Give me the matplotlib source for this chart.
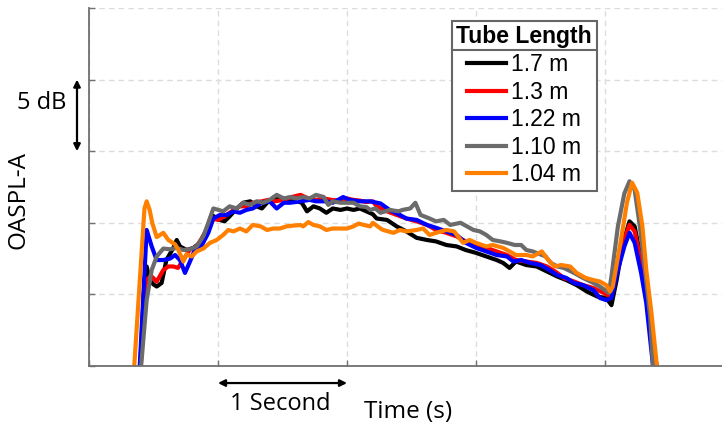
import numpy as np
import matplotlib
matplotlib.use('Agg')
import matplotlib.pyplot as plt
from matplotlib.lines import Line2D
from matplotlib.transforms import IdentityTransform

# valores (tiempo en s, nivel en dB relativo al eje)
t_170 = [0.39, 0.43, 0.447, 0.47, 0.50, 0.525, 0.563, 0.60, 0.654, 0.68, 0.705, 0.757, 0.81, 0.86,
         0.91, 0.95, 1.015, 1.05, 1.09, 1.145, 1.196, 1.25, 1.30, 1.34, 1.39, 1.44, 1.51, 1.56, 1.61,
         1.65, 1.69, 1.74, 1.79, 1.84, 1.89, 1.95, 2.00, 2.05, 2.10, 2.15, 2.20, 2.23, 2.31, 2.385,
         2.46, 2.54, 2.62, 2.69, 2.77, 2.85, 2.92, 3.00, 3.08, 3.16, 3.21, 3.26, 3.31, 3.39, 3.47,
         3.55, 3.63, 3.70, 3.78, 3.86, 3.94, 4.01, 4.05, 4.09, 4.14, 4.19, 4.23, 4.27, 4.32, 4.36,
         4.40, 4.42]
db_170 = [-1.5, 6.0, 6.95, 6.0, 5.7, 5.55, 5.8, 7.4, 8.25, 8.8, 8.35, 8.1, 8.25, 8.6,
          9.5, 10.55, 10.2, 10.1, 10.45, 11.0, 11.4, 11.5, 11.15, 11.0, 11.5, 11.7, 11.7, 11.5, 11.5,
          11.4, 10.8, 11.15, 11.0, 10.7, 11.0, 10.9, 11.0, 10.9, 11.0, 10.8, 10.6, 10.3, 10.2, 9.75,
          9.4, 8.95, 8.8, 8.7, 8.45, 8.35, 8.1, 7.9, 7.65, 7.4, 7.2, 6.85, 7.3, 7.05, 6.95,
          6.6, 6.25, 6.0, 5.65, 5.2, 4.85, 4.75, 4.25, 6.0, 8.6, 10.1, 9.75, 7.9, 5.1, 2.3,
          0.0, -1.5]

t_130 = [0.39, 0.44, 0.447, 0.48, 0.525, 0.576, 0.615, 0.654, 0.69, 0.73, 0.78, 0.835, 0.90, 0.95,
         1.00, 1.05, 1.106, 1.17, 1.22, 1.27, 1.34, 1.39, 1.44, 1.51, 1.57, 1.64, 1.70, 1.76, 1.82,
         1.88, 1.95, 2.00, 2.05, 2.10, 2.15, 2.20, 2.23, 2.31, 2.385, 2.46, 2.54, 2.62, 2.69, 2.77,
         2.85, 2.92, 3.00, 3.08, 3.16, 3.24, 3.31, 3.39, 3.47, 3.55, 3.63, 3.68, 3.76, 3.83, 3.91,
         3.99, 4.04, 4.09, 4.14, 4.19, 4.23, 4.27, 4.32, 4.36, 4.40, 4.42]
db_130 = [-1.5, 5.5, 6.0, 6.3, 5.9, 6.7, 6.95, 6.95, 6.85, 7.4, 8.1, 8.35, 9.3, 10.3,
          10.2, 10.45, 10.8, 11.15, 11.15, 11.4, 11.5, 11.6, 11.5, 11.6, 11.8, 11.95, 11.7, 11.6, 11.7,
          11.6, 11.55, 11.7, 11.6, 11.55, 11.45, 11.5, 11.15, 10.8, 10.55, 10.3, 10.1, 9.85, 9.5, 9.3,
          9.05, 8.7, 8.45, 8.25, 8.0, 7.75, 7.4, 7.3, 7.2, 6.95, 6.5, 6.15, 5.9, 5.65, 5.45,
          5.1, 4.85, 6.5, 8.6, 9.85, 9.4, 7.65, 5.1, 2.3, 0.0, -1.5]

t_122 = [0.385, 0.447, 0.486, 0.525, 0.576, 0.628, 0.667, 0.705, 0.744, 0.783, 0.82, 0.87, 0.925,
         0.964, 1.015, 1.067, 1.12, 1.17, 1.22, 1.27, 1.34, 1.40, 1.455, 1.51, 1.56, 1.64, 1.71,
         1.76, 1.84, 1.89, 1.97, 2.02, 2.10, 2.18, 2.26, 2.33, 2.41, 2.46, 2.54, 2.62, 2.69, 2.77,
         2.85, 2.92, 3.00, 3.08, 3.16, 3.24, 3.29, 3.35, 3.42, 3.50, 3.57, 3.63, 3.70, 3.76, 3.83,
         3.91, 3.96, 4.01, 4.05, 4.10, 4.15, 4.19, 4.23, 4.28, 4.32, 4.37, 4.39]
db_122 = [-1.5, 9.5, 8.35, 7.4, 7.4, 7.5, 7.75, 7.4, 6.5, 7.3, 8.1, 8.35, 9.3,
          10.3, 10.55, 10.55, 10.8, 10.7, 10.9, 11.0, 11.4, 11.5, 11.0, 11.4, 11.4, 11.5, 11.6,
          11.5, 11.5, 11.4, 11.8, 11.6, 11.5, 11.5, 11.35, 10.9, 10.55, 10.3, 10.2, 9.85, 9.65, 9.4,
          9.15, 8.6, 8.25, 8.0, 7.75, 7.65, 7.3, 7.4, 7.2, 7.05, 6.7, 6.35, 6.15, 5.8, 5.65,
          5.3, 4.75, 4.6, 4.75, 6.7, 8.35, 9.3, 8.6, 6.5, 4.4, 0.2, -1.5]

t_110 = [0.39, 0.447, 0.486, 0.525, 0.576, 0.628, 0.68, 0.731, 0.783, 0.835, 0.886, 0.925, 0.964,
         1.003, 1.04, 1.09, 1.145, 1.196, 1.25, 1.30, 1.35, 1.40, 1.455, 1.51, 1.56, 1.61, 1.66,
         1.71, 1.76, 1.82, 1.855, 1.89, 1.95, 2.00, 2.05, 2.10, 2.15, 2.18, 2.22, 2.26, 2.33, 2.40,
         2.43, 2.49, 2.53, 2.57, 2.64, 2.69, 2.75, 2.80, 2.88, 2.93, 2.98, 3.03, 3.08, 3.13, 3.19,
         3.24, 3.30, 3.35, 3.39, 3.44, 3.54, 3.58, 3.63, 3.68, 3.76, 3.83, 3.91, 3.96, 4.00, 4.03,
         4.05, 4.10, 4.15, 4.19, 4.23, 4.27, 4.31, 4.35, 4.37, 4.39]
db_110 = [-1.5, 4.6, 6.7, 7.65, 8.2, 8.15, 8.25, 8.1, 8.15, 8.35, 9.05, 10.0, 11.0,
          10.9, 10.8, 11.15, 11.0, 11.4, 11.25, 11.5, 11.4, 11.6, 11.95, 11.7, 11.8, 11.7, 11.8,
          11.7, 11.95, 11.8, 11.25, 11.5, 11.4, 11.4, 11.4, 11.15, 11.1, 10.9, 11.0, 10.7, 10.9, 10.8,
          10.9, 11.0, 11.4, 10.55, 10.3, 10.1, 10.2, 9.85, 10.0, 9.75, 9.5, 9.4, 9.15, 8.8, 8.7,
          8.6, 8.45, 8.45, 8.1, 8.0, 7.65, 7.2, 6.95, 6.85, 6.5, 6.15, 5.8, 5.55, 5.3, 5.1,
          6.25, 9.75, 12.05, 12.9, 12.3, 9.75, 6.7, 3.45, 0.2, -1.5]

t_104 = [0.34, 0.43, 0.447, 0.47, 0.49, 0.525, 0.576, 0.615, 0.667, 0.693, 0.731, 0.757, 0.796,
         0.835, 0.886, 0.938, 0.99, 1.04, 1.08, 1.12, 1.17, 1.22, 1.27, 1.33, 1.38, 1.43, 1.48,
         1.53, 1.58, 1.64, 1.66, 1.70, 1.74, 1.79, 1.84, 1.89, 1.95, 2.00, 2.05, 2.09, 2.13, 2.18,
         2.20, 2.26, 2.28, 2.36, 2.41, 2.46, 2.54, 2.59, 2.64, 2.69, 2.77, 2.83, 2.90, 2.95, 3.00,
         3.08, 3.13, 3.21, 3.26, 3.31, 3.39, 3.44, 3.51, 3.56, 3.61, 3.66, 3.73, 3.78, 3.85, 3.91,
         3.96, 4.01, 4.04, 4.06, 4.12, 4.17, 4.21, 4.25, 4.29, 4.32, 4.36, 4.40, 4.42]
db_104 = [-1.5, 11.0, 11.5, 10.9, 10.0, 9.0, 9.3, 8.8, 8.5, 8.1, 7.3, 7.8, 7.65,
          8.0, 8.2, 8.6, 8.8, 9.15, 9.5, 9.4, 9.6, 9.4, 9.85, 9.75, 9.5, 9.6, 9.6,
          9.75, 9.8, 9.85, 9.75, 10.05, 9.85, 9.75, 9.5, 9.6, 9.6, 9.6, 9.75, 9.95, 9.85, 9.75,
          10.0, 9.6, 9.5, 9.3, 9.5, 9.4, 9.5, 9.6, 9.15, 9.3, 9.5, 9.4, 8.6, 8.8, 8.6,
          8.35, 8.45, 8.25, 8.0, 7.75, 7.75, 7.65, 8.0, 7.4, 6.95, 7.05, 6.95, 6.5, 6.15, 6.0,
          5.9, 5.65, 5.2, 5.55, 8.6, 11.4, 12.8, 12.1, 9.75, 6.7, 3.7, 0.2, -1.5]

series = [(t_170, db_170, 'k', '1.7 m'),
          (t_130, db_130, '#ff0000', '1.3 m'),
          (t_122, db_122, '#0000ff', '1.22 m'),
          (t_110, db_110, '#6b6b6b', '1.10 m'),
          (t_104, db_104, '#ff8000', '1.04 m')]

fig = plt.figure(figsize=(7.22, 4.30), dpi=100)
ax = fig.add_axes([89/722, 1-366/430, 633/722, 358/430])

for tt, dd, c, lab in series:
    ax.plot(tt, dd, color=c, lw=3.0, label=lab, solid_joinstyle='round')

ax.set_xlim(0, 4.907)
ax.set_ylim(0, 25)
ax.set_xticks([0, 1, 2, 3, 4])
ax.set_yticks([0, 5, 10, 15, 20, 25])
ax.tick_params(direction='in', length=4, width=1, color='#707070',
               labelbottom=False, labelleft=False)
ax.grid(True, ls=(0, (4, 3)), color='#dcdcdc', lw=1)
ax.set_axisbelow(True)
for s in ['top', 'right']:
    ax.spines[s].set_visible(False)
for s in ['left', 'bottom']:
    ax.spines[s].set_color('#707070')
    ax.spines[s].set_linewidth(1.3)

# flechas de escala
ax.annotate('', xy=(-0.093, 20), xytext=(-0.093, 15),
            arrowprops=dict(arrowstyle='<|-|>', color='k', lw=1.6, mutation_scale=10,
                            shrinkA=0, shrinkB=0), annotation_clip=False)
ax.annotate('', xy=(1, -1.19), xytext=(2, -1.19),
            arrowprops=dict(arrowstyle='<|-|>', color='k', lw=1.6, mutation_scale=10,
                            shrinkA=0, shrinkB=0), annotation_clip=False)
ax.text(-0.37, 18.4, '5 dB', ha='center', va='center', fontsize=17,
        family='Open Sans', clip_on=False)
ax.text(1.48, -2.62, '1 Second', ha='center', va='center', fontsize=17,
        family='Open Sans', clip_on=False)
ax.text(2.473, -3.2, 'Time (s)', ha='center', va='center', fontsize=17.5,
        family='Open Sans', clip_on=False)
fig.text(19/722, 1-200/430, 'OASPL-A', rotation=90, ha='center', va='center',
         fontsize=17.5, family='Open Sans')

leg = ax.legend(loc='upper left', bbox_to_anchor=(0.573, 0.964), borderaxespad=0,
                title='Tube Length',
                title_fontproperties={'weight': 'bold', 'size': 16.5, 'family': 'Liberation Sans'},
                prop={'family': 'Liberation Sans', 'size': 16.5},
                fancybox=False, framealpha=1, edgecolor='#666666',
                handlelength=1.7, handletextpad=0.2, labelspacing=0.2, borderpad=0.2)
leg.get_frame().set_linewidth(1.5)

# linea bajo el titulo de la leyenda
fig.canvas.draw()
fb = leg.get_frame().get_window_extent()
tb = leg.get_title().get_window_extent()
ysep = tb.y0 - 2
fig.add_artist(Line2D([fb.x0, fb.x1], [ysep, ysep], transform=IdentityTransform(),
                      color='#666666', lw=1.5))

fig.savefig('out.png', dpi=100)
